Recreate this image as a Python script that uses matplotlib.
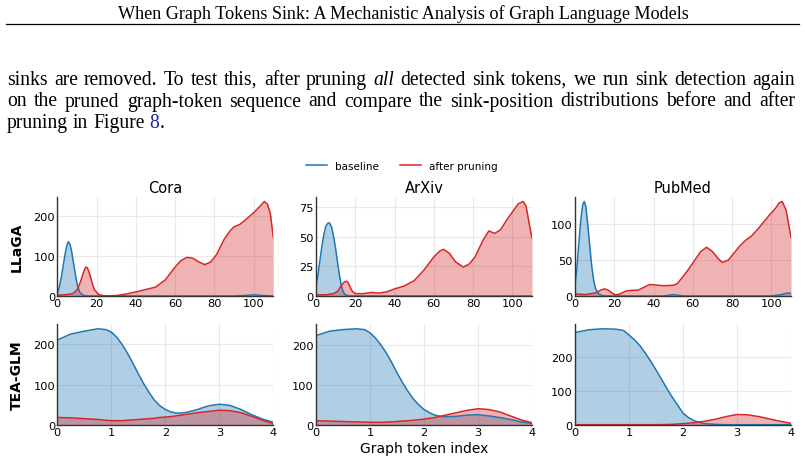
import matplotlib
matplotlib.use('Agg')
import matplotlib.pyplot as plt
from matplotlib.lines import Line2D

##Data
DATASETS = ['Cora', 'ArXiv', 'PubMed']
MODELS = ['LLaGA', 'TEA-GLM']
LABELS = ['baseline', 'after pruning']

#-LLaGA: sink position density (positions 0..110)
cora_base_x = [0, 1, 2, 3, 4, 5, 5.6, 6.5, 7.5, 8.5, 9.5, 10.5, 11.5, 13, 15, 20, 90, 95, 100, 105, 110]
cora_base_y = [5, 22, 45, 75, 105, 128, 135, 128, 105, 75, 45, 22, 9, 2, 0, 0, 0, 1, 3, 1, 0]
cora_prun_x = [0, 4, 8, 10, 11, 12, 13, 14, 14.6, 15.3, 16, 17, 18, 19, 21, 24, 30, 35, 40, 45, 50, 55,
               60, 63, 66, 69, 72, 75, 78, 81, 85, 88, 90, 93, 96, 100, 103, 105.5, 107, 108.5, 110]
cora_prun_y = [2, 3, 6, 15, 25, 38, 54, 67, 72, 70, 62, 46, 28, 15, 4, 0, 1, 5, 10, 16, 22, 40,
               72, 88, 96, 94, 85, 78, 84, 102, 141, 162, 172, 178, 190, 207, 222, 235, 228, 205, 145]

arxiv_base_x = [0, 1, 2, 3, 4, 5, 6, 6.5, 7, 8, 9, 10, 11, 12, 13, 14, 15, 17, 20, 110]
arxiv_base_y = [8, 18, 30, 42, 52, 59, 61.5, 62, 61.5, 58, 50, 40, 28, 17, 8, 3, 1, 0, 0, 0]
arxiv_prun_x = [0, 5, 9, 11, 13, 14.5, 15.5, 16.5, 17.5, 18.5, 20, 24, 28, 32, 36, 40, 45, 50, 55, 60, 63, 65,
                68, 71, 75, 78, 81, 85, 88, 91, 94, 97, 100, 103, 105.5, 107, 108.5, 110]
arxiv_prun_y = [1, 1, 2, 4, 9, 12, 12.5, 11, 7, 4, 2, 2, 3, 2.5, 3.5, 6, 8.5, 13, 22, 33, 38, 39.5,
                36, 29, 24.5, 27, 33, 47, 55, 53, 56, 64, 71, 78, 80, 76, 62, 49]

pubmed_base_x = [0, 1, 2, 3, 4, 4.7, 5.5, 6.5, 7.5, 8.5, 9.5, 10.5, 12, 14, 16, 45, 50, 55, 100, 105, 108, 110]
pubmed_base_y = [15, 40, 75, 108, 128, 132, 125, 100, 70, 42, 22, 10, 3, 0.5, 0, 0, 2, 0, 0, 2, 4, 4]
pubmed_prun_x = [0, 5, 10, 13, 15, 17, 19, 20.5, 23, 26, 29, 32, 35, 38, 41, 44, 47, 50, 52, 55, 58, 61,
                 64, 67, 70, 73, 75, 78, 81, 84, 87, 90, 93, 96, 99, 102, 104, 105.5, 107.5, 110]
pubmed_prun_y = [3, 2, 4, 8, 10, 8, 4, 1.5, 3, 7, 8, 8, 12, 16, 15.5, 14.5, 14.5, 15, 17, 27, 38, 50,
                 62, 68, 62, 52, 47, 50, 60, 70, 78, 84, 93, 103, 113, 122, 130, 132, 120, 82]

#-TEA-GLM: sink position density (positions 0..4)
tea_x = [0, 0.25, 0.5, 0.75, 0.9, 1.0, 1.1, 1.2, 1.3, 1.4, 1.5, 1.6, 1.7, 1.8, 1.9, 2.0,
         2.1, 2.2, 2.3, 2.4, 2.6, 2.8, 3.0, 3.2, 3.4, 3.6, 3.8, 4.0]
tea_cora_base = [211, 226, 233, 239, 237, 231, 218, 200, 178, 153, 127, 102, 80, 61, 47, 38,
                 32, 29, 29, 31, 38, 47, 51, 48, 38, 25, 14, 6]
tea_cora_prun = [18, 17, 15, 13, 11, 10, 10, 10, 11, 12, 13, 14, 15, 16, 18, 19,
                 20, 22, 24, 26, 30, 33, 36, 35, 30, 21, 11, 3]
tea_arxiv_base = [223, 234, 238, 240, 238, 230, 217, 200, 180, 156, 130, 106, 84, 65, 50, 38,
                  30, 24, 21, 20, 21, 24, 25, 22, 18, 13, 7, 3]
tea_arxiv_prun = [10, 9, 8, 7, 6.5, 6, 6, 6, 6.5, 7, 8, 9, 10, 11, 12.5, 14,
                  16, 18, 21, 24, 30, 36, 40, 38, 32, 22, 12, 5]
tea_pubmed_base = [271, 279, 282, 281, 277, 264, 250, 233, 211, 187, 161, 134, 107, 81, 58, 34,
                   21, 12, 7, 3, 1, 0, 0, 0, 0, 0, 0, 0]
tea_pubmed_prun = [0, 0, 0, 0, 0, 0, 0, 0, 0, 0, 0, 0.3, 0.6, 1, 2, 3,
                   4.5, 6, 8, 10, 16, 24, 30, 29, 24, 17, 10, 4]

#-Text
HEADER = 'When Graph Tokens Sink: A Mechanistic Analysis of Graph Language Models'
LINE1 = 'sinks are removed. To test this, after pruning *all detected sink tokens, we run sink detection again'
LINE2 = 'on the pruned graph-token sequence and compare the sink-position distributions before and after'
LINE3 = 'pruning in Figure'

BLUE = '#1f77b4'
RED = '#d62728'
W, H = 805, 464

fig = plt.figure(figsize=(W / 100, H / 100), dpi=100)
renderer = fig.canvas.get_renderer()
SERIF = 'Liberation Serif'
BODY_FS = 14.1


def fx(px):
    return px / W


def fy(py):
    return 1 - py / H


def text_width(s, **kw):
    t = fig.text(0, 0, s, **kw)
    w = t.get_window_extent(renderer).width
    t.remove()
    return w


def put_line(line, y, x0, x1, justify=True, tail=None):
    #words marked with * are italic
    words = line.split(' ')
    pieces = []
    for w in words:
        style = 'italic' if w.startswith('*') else 'normal'
        w = w.lstrip('*')
        pieces.append((w, style, text_width(w, family=SERIF, fontsize=BODY_FS, style=style)))
    space = text_width('a a', family=SERIF, fontsize=BODY_FS) - text_width('aa', family=SERIF, fontsize=BODY_FS)
    if justify:
        gap = (x1 - x0 - sum(p[2] for p in pieces)) / (len(pieces) - 1)
    else:
        gap = space
    x = x0
    for w, style, wd in pieces:
        fig.text(fx(x), fy(y), w, family=SERIF, fontsize=BODY_FS, style=style, va='baseline')
        x += wd + gap
    if tail is not None:
        for s, col in tail:
            fig.text(fx(x), fy(y), s, family=SERIF, fontsize=BODY_FS, color=col, va='baseline')
            x += text_width(s, family=SERIF, fontsize=BODY_FS)


##Page header
hw = text_width(HEADER, family=SERIF, fontsize=10)
fig.text(fx(403.5), fy(19), HEADER, family=SERIF, fontsize=10 * 573 / hw, ha='center', va='baseline')
fig.add_artist(Line2D([fx(6), fx(799)], [fy(24.5), fy(24.5)], color='black', lw=0.9))

##Body text
put_line(LINE1, 85, 7, 795)
put_line(LINE2, 106.5, 7, 795)
put_line(LINE3, 128, 7, 795, justify=False, tail=[('8', '#1c1ca0'), ('.', 'black')])

##Plots
panels = [
    [(cora_base_x, cora_base_y, cora_prun_x, cora_prun_y),
     (arxiv_base_x, arxiv_base_y, arxiv_prun_x, arxiv_prun_y),
     (pubmed_base_x, pubmed_base_y, pubmed_prun_x, pubmed_prun_y)],
    [(tea_x, tea_cora_base, tea_x, tea_cora_prun),
     (tea_x, tea_arxiv_base, tea_x, tea_arxiv_prun),
     (tea_x, tea_pubmed_base, tea_x, tea_pubmed_prun)],
]
lefts = [57.3, 316, 575]
ax_w = 216
rows = [(197.7, 297), (325, 425.7)]
yticks = [[[0, 100, 200], [0, 25, 50, 75], [0, 50, 100]],
          [[0, 100, 200], [0, 100, 200], [0, 100, 200]]]

for r in range(2):
    top, bot = rows[r]
    for c in range(3):
        ax = fig.add_axes([fx(lefts[c]), fy(bot), fx(ax_w), (bot - top) / H])
        bx, by, px, py = panels[r][c]
        ax.fill_between(bx, by, color=BLUE, alpha=0.35, lw=0)
        ax.plot(bx, by, color=BLUE, lw=1.1)
        ax.fill_between(px, py, color=RED, alpha=0.35, lw=0)
        ax.plot(px, py, color=RED, lw=1.1)
        if r == 0:
            ax.set_xlim(0, 110)
            ax.set_xticks([0, 20, 40, 60, 80, 100])
            ax.set_title(DATASETS[c], fontsize=10.5, pad=3.5)
        else:
            ax.set_xlim(0, 4)
            ax.set_xticks([0, 1, 2, 3, 4])
        ax.set_ylim(0, max(max(by), max(py)) * 1.05)
        ax.set_yticks(yticks[r][c])
        ax.grid(True, color='#e8e8e8', lw=0.8)
        ax.set_axisbelow(True)
        for s in ['top', 'right']:
            ax.spines[s].set_visible(False)
        for s in ['left', 'bottom']:
            ax.spines[s].set_color('#333333')
            ax.spines[s].set_linewidth(1.0)
        ax.tick_params(length=0, labelsize=8.2, pad=1.5)
    fig.text(fx(17), fy((top + bot) / 2), MODELS[r], rotation=90, fontsize=10,
             fontweight='bold', ha='center', va='center')

fig.text(fx(424), fy(449), 'Graph token index', ha='center', va='center', fontsize=10)

handles = [Line2D([], [], color=BLUE, lw=1.1, label=LABELS[0]),
           Line2D([], [], color=RED, lw=1.1, label=LABELS[1])]
fig.legend(handles=handles, loc='center', bbox_to_anchor=(fx(402), fy(167)), ncol=2,
           frameon=False, fontsize=7.5)

fig.savefig('out.png', dpi=100)
